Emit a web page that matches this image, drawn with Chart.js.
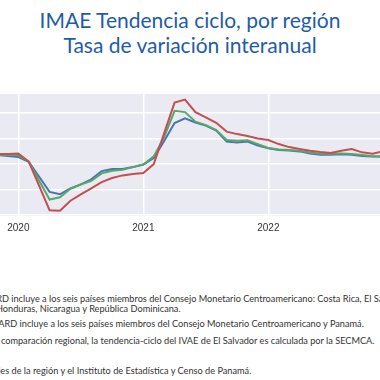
<!DOCTYPE html>
<html><head><meta charset="utf-8">
<script src="https://cdn.jsdelivr.net/npm/chart.js@4.4.1/dist/chart.umd.min.js"></script>
<style>
html,body{margin:0;padding:0;background:#fff;width:380px;height:380px;overflow:hidden;position:relative;}
#title{position:absolute;left:0;top:7px;width:380px;text-align:center;color:#1f5ca8;font-family:Lato,"Open Sans",sans-serif;font-size:21px;line-height:25px;}
#wrap{position:absolute;left:0;top:94px;width:380px;height:150px;}
.fn{position:absolute;white-space:nowrap;font-family:Lato,"Noto Sans",sans-serif;font-size:9.2px;color:#333;line-height:10px;}
</style></head><body>
<div id="title">IMAE Tendencia ciclo, por región<br>Tasa de variación interanual</div>
<div id="wrap"><canvas id="c"></canvas></div>
<div class="fn" data-x="9" style="top:294px">1/ CARD<span class="a"> incluye</span> a los seis países miembros del Consejo Monetario Centroamericano: Costa Rica, El Salvador, Guatemala,</div>
<div class="fn" data-x="-4" style="top:304px"><span class="a">Honduras</span>, Nicaragua y República Dominicana.</div>
<div class="fn" data-x="17" style="top:319px">2/ CAPARD<span class="a"> incluye</span> a los seis países miembros del Consejo Monetario Centroamericano y Panamá.</div>
<div class="fn" data-x="1" style="top:336px">3/ Para fines de <span class="a">comparación</span> regional, la tendencia-ciclo del IVAE de El Salvador es calculada por la SECMCA.</div>
<div class="fn" data-x="0" style="top:366px">Fuente: Bancos Central<span class="a">es de la región</span> y el Instituto de Estadística y Censo de Panamá.</div>
<script>
const months = ['2019-10','2019-11','2019-12',
 '2020-01','2020-02','2020-03','2020-04','2020-05','2020-06','2020-07','2020-08','2020-09','2020-10','2020-11','2020-12',
 '2021-01','2021-02','2021-03','2021-04','2021-05','2021-06','2021-07','2021-08','2021-09','2021-10','2021-11','2021-12',
 '2022-01','2022-02','2022-03','2022-04','2022-05','2022-06','2022-07','2022-08','2022-09','2022-10','2022-11','2022-12'];
const tickYears = ['2020','2021','2022'];
const seriesBlue = [1.76,1.76,1.56,
 1.37,0.45,-2.48,-5.43,-5.90,-4.75,-3.96,-2.99,-1.37,-0.98,-0.98,-0.59,
 -0.10,1.17,4.49,8.01,8.93,8.14,7.52,6.54,4.39,4.24,4.39,3.61,
 3.09,2.77,2.64,2.48,2.05,1.80,1.80,1.91,1.80,1.60,1.50,1.50];
const seriesGreen = [1.86,1.86,1.76,
 1.76,0.45,-3.24,-6.93,-6.48,-4.84,-4.00,-3.26,-1.82,-1.31,-1.11,-0.59,
 -0.10,1.50,5.27,10.41,10.16,8.30,7.62,6.64,4.69,4.55,4.65,3.91,
 3.16,2.83,2.73,2.60,2.25,2.01,1.99,2.05,1.95,1.76,1.52,1.50];
const seriesRed = [1.95,1.95,1.95,
 2.05,0.49,-4.28,-9.02,-9.12,-7.17,-5.92,-4.75,-3.52,-2.73,-2.21,-1.95,
 -1.76,0.00,6.05,12.01,12.60,10.16,9.12,8.07,6.35,5.86,5.47,5.02,
 4.69,3.91,3.32,2.93,2.60,2.34,2.15,2.60,2.93,2.29,2.01,2.48];
const seriesNames = ['CA','CARD','CAPARD'];

document.querySelectorAll('.fn').forEach(el=>{
  const a=el.querySelector('.a');
  el.style.left=(+el.dataset.x - a.offsetLeft)+'px';
});

const base = months.indexOf('2020-01');
const toPts = arr => arr.map((v,i)=>({x:i-base,y:v}));
const tickVals = tickYears.map(y=>months.indexOf(y+'-01')-base);

const bgPlugin = {
  id:'bg',
  beforeDraw(chart){
    const {ctx,chartArea:a}=chart;
    ctx.save();ctx.fillStyle='#EAEAF2';
    ctx.fillRect(a.left,a.top,a.right-a.left,a.bottom-a.top);
    ctx.restore();
  }
};

new Chart(document.getElementById('c'),{
  type:'line',
  data:{datasets:[
    {label:seriesNames[2],data:toPts(seriesRed),borderColor:'#C44E52'},
    {label:seriesNames[1],data:toPts(seriesGreen),borderColor:'#55A868'},
    {label:seriesNames[0],data:toPts(seriesBlue),borderColor:'#4C72B0'}
  ]},
  options:{
    responsive:true,maintainAspectRatio:false,animation:false,
    layout:{padding:0},
    elements:{point:{radius:0},line:{borderWidth:2,tension:0}},
    plugins:{legend:{display:false},tooltip:{enabled:false}},
    scales:{
      x:{type:'linear',min:-1.76,max:34.72,
        afterFit(s){s.height=28;},
        afterBuildTicks(s){s.ticks=tickVals.map(v=>({value:v}));},
        ticks:{autoSkip:false,maxRotation:0,padding:6,color:'#333',
          font:{family:'"Liberation Sans", Arial, sans-serif',size:10},
          callback:(v)=>tickYears[tickVals.indexOf(v)]},
        grid:{color:'#ffffff',lineWidth:1.5,drawTicks:false},
        border:{display:false}},
      y:{min:-10.15,max:13.7,
        afterFit(s){s.width=0;},
        afterBuildTicks(s){s.ticks=[-10,-5,0,5,10].map(v=>({value:v}));},
        ticks:{display:false},
        grid:{color:'#ffffff',lineWidth:1.5,drawTicks:false},
        border:{display:false}}
    }
  },
  plugins:[bgPlugin]
});
</script>
</body></html>
